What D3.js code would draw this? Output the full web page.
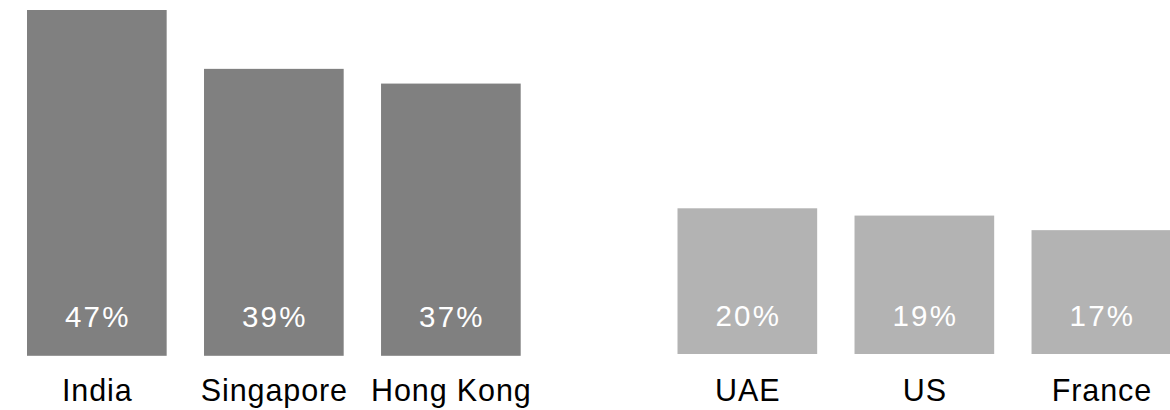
<!DOCTYPE html>
<html>
<head>
<meta charset="utf-8">
<script src="https://cdn.jsdelivr.net/npm/d3@7/dist/d3.min.js"></script>
<style>
  html, body { margin: 0; padding: 0; background: #fff; }
  svg { display: block; }
  text { font-family: "Liberation Sans", Arial, Helvetica, sans-serif; }
</style>
</head>
<body>
<svg id="chart" width="1170" height="410"></svg>
<script>
// Share of respondents, two groups of markets
const leadCategories = ["India", "Singapore", "Hong Kong"];
const leadValues = [47, 39, 37];
const trailCategories = ["UAE", "US", "France"];
const trailValues = [20, 19, 17];
const valueFormat = v => v + "%";

const svg = d3.select("#chart");

const yMax = 47;

// Each group gets its own band scale and baseline
const groups = [
  {
    cats: leadCategories, vals: leadValues, color: "#808080",
    x: d3.scaleBand().domain(leadCategories).range([27, 520.7]).paddingInner(0.211).paddingOuter(0),
    y: d3.scaleLinear().domain([0, yMax]).range([355.8, 10])
  },
  {
    cats: trailCategories, vals: trailValues, color: "#b3b3b3",
    x: d3.scaleBand().domain(trailCategories).range([677.5, 1171.2]).paddingInner(0.211).paddingOuter(0),
    y: d3.scaleLinear().domain([0, yMax]).range([354, 11.6])
  }
];

groups.forEach(g => {
  const data = g.cats.map((c, i) => ({ cat: c, val: g.vals[i] }));
  const base = g.y(0);
  const layer = svg.append("g");

  layer.selectAll("rect")
    .data(data)
    .join("rect")
    .attr("x", d => g.x(d.cat))
    .attr("width", g.x.bandwidth())
    .attr("y", d => g.y(d.val))
    .attr("height", d => base - g.y(d.val))
    .attr("fill", g.color);

  // value labels inside the bars, near the base
  layer.selectAll("text.value")
    .data(data)
    .join("text")
    .attr("class", "value")
    .attr("x", d => g.x(d.cat) + g.x.bandwidth() / 2 + 1)
    .attr("y", base - 28.5)
    .attr("text-anchor", "middle")
    .attr("fill", "#ffffff")
    .attr("font-size", 29.5)
    .attr("letter-spacing", 2.2)
    .text(d => valueFormat(d.val));

  // category labels below the bars
  layer.selectAll("text.cat")
    .data(data)
    .join("text")
    .attr("class", "cat")
    .attr("x", d => g.x(d.cat) + g.x.bandwidth() / 2 + 0.5)
    .attr("y", 400.5)
    .attr("text-anchor", "middle")
    .attr("fill", "#000000")
    .attr("font-size", 30.5)
    .attr("letter-spacing", 0.9)
    .text(d => d.cat);
});
</script>
</body>
</html>
